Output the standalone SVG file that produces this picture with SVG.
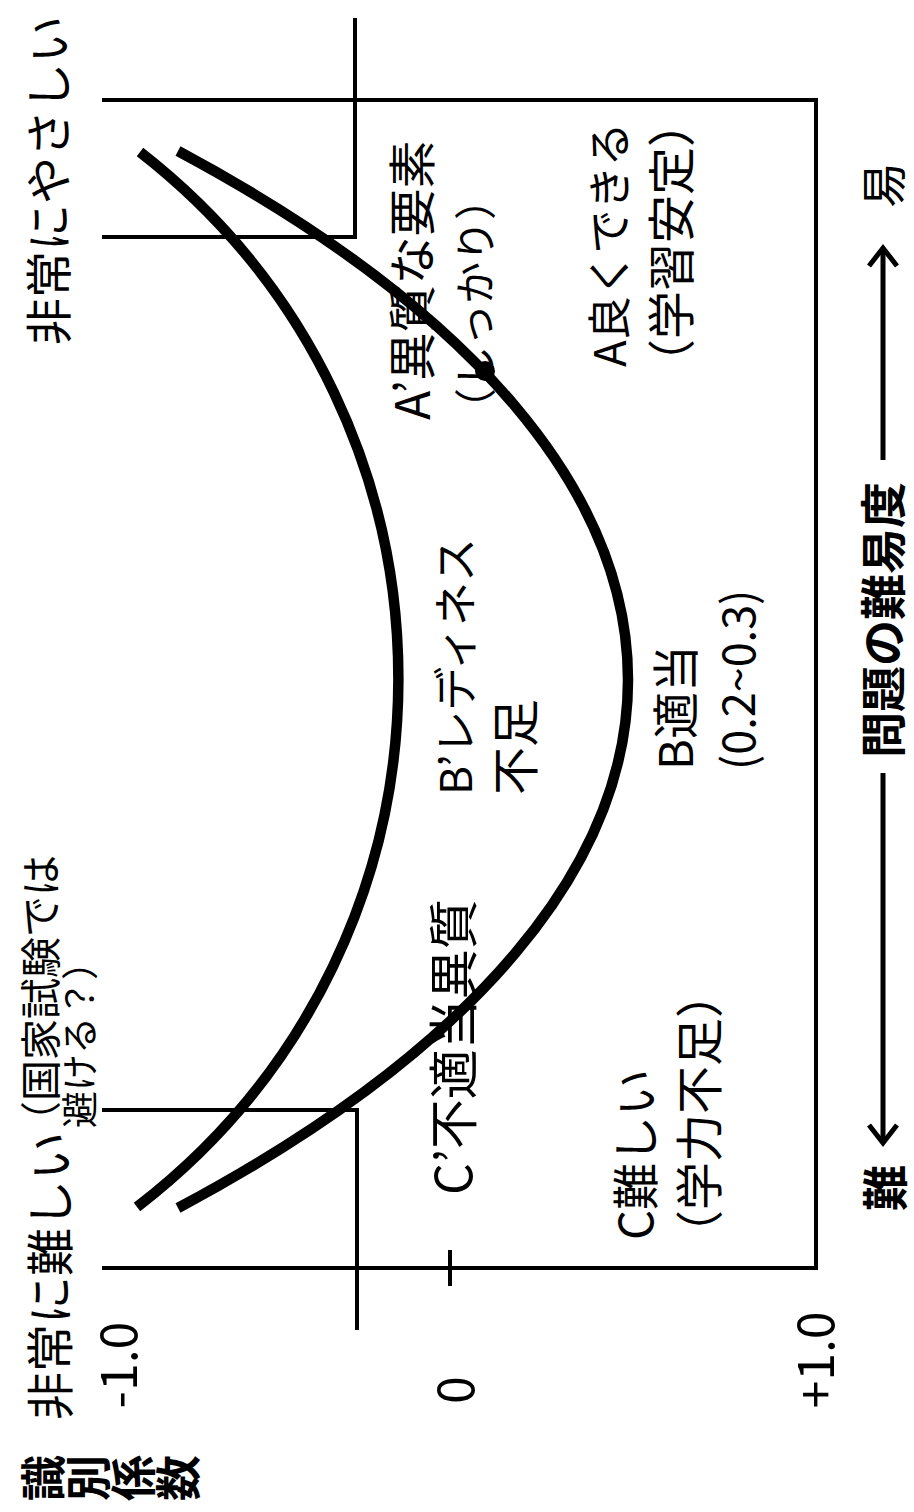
<svg xmlns="http://www.w3.org/2000/svg" width="914" height="1512" viewBox="0 0 914 1512">
<style>
text { font-family: "Noto Sans CJK JP", "Noto Sans", sans-serif; fill: #000; dominant-baseline: central; }
.m { text-anchor: middle; }
.b { font-weight: bold; }
.l { stroke: #000; stroke-width: 4; fill: none; }
.c { stroke: #000; stroke-width: 10.5; fill: none; }
.a { stroke: #000; stroke-width: 5; fill: none; }
</style>
<rect width="914" height="1512" fill="#fff"/>
<g id="frame">
<path class="l" d="M355,18 V237 H102"/>
<path class="l" d="M102,100 H816 V1268 H102"/>
<path class="l" d="M102,1110 H357 V1330"/>
<path class="l" d="M450,1250 V1286"/>
</g>
<g id="labels">
<text transform="translate(45,345) rotate(-90)" font-size="47">非常にやさしい</text>
<text transform="translate(47,1420) rotate(-90)" font-size="48">非常に難しい</text>
<text transform="translate(38,1142) rotate(-90)" font-size="41">（国家試験では</text>
<text transform="translate(78,1128) rotate(-90)" font-size="37">避ける？）</text>
<text class="m" transform="translate(115,1365) rotate(-90)" font-size="50">-1.0</text>
<text class="m" transform="translate(452,1390) rotate(-90)" font-size="50">0</text>
<text class="m" transform="translate(812,1360) rotate(-90)" font-size="50">+1.0</text>
<text class="m b" transform="translate(40,1478) rotate(-90)" font-size="46">識</text>
<text class="m b" transform="translate(85,1478) rotate(-90)" font-size="46">別</text>
<text class="m b" transform="translate(130,1478) rotate(-90)" font-size="46">係</text>
<text class="m b" transform="translate(175,1478) rotate(-90)" font-size="46">数</text>
<text transform="translate(409,420) rotate(-90)" font-size="48">A’異質な要素</text>
<text transform="translate(472,430) rotate(-90)" font-size="42">（しっかり）</text>
<text transform="translate(607,367) rotate(-90)" font-size="44">A良くできる</text>
<text transform="translate(668,387) rotate(-90)" font-size="48">（学習安定）</text>
<text transform="translate(453,795) rotate(-90)" font-size="44">B’レディネス</text>
<text transform="translate(512,795) rotate(-90)" font-size="48">不足</text>
<text transform="translate(672,770) rotate(-90)" font-size="47">B適当</text>
<text transform="translate(735,770) rotate(-90)" font-size="45">(0.2~0.3)</text>
<text transform="translate(450,1195) rotate(-90)" font-size="50">C’不適当異質</text>
<text transform="translate(632,1240) rotate(-90)" font-size="47">C難しい</text>
<text transform="translate(696,1258) rotate(-90)" font-size="48">（学力不足）</text>
<text class="m" transform="translate(880,185) rotate(-90)" font-size="46">易</text>
<text class="m b" transform="translate(880,620) rotate(-90)" font-size="46">問題の難易度</text>
<text class="m b" transform="translate(882,1188) rotate(-90)" font-size="46">難</text>
</g>
<g id="connectors">
<path class="c" d="M140,152 C485,421 485,939 137,1207"/>
<path class="c" d="M178,151 C778,472 778,888 178,1208"/>
<circle cx="485" cy="371" r="10" fill="#000"/>
<path class="a" d="M883,460 V250"/>
<path class="a" d="M869,266 L883,248 L897,266"/>
<path class="a" d="M883,773 V1141"/>
<path class="a" d="M869,1125 L883,1143 L897,1125"/>
</g>
</svg>
